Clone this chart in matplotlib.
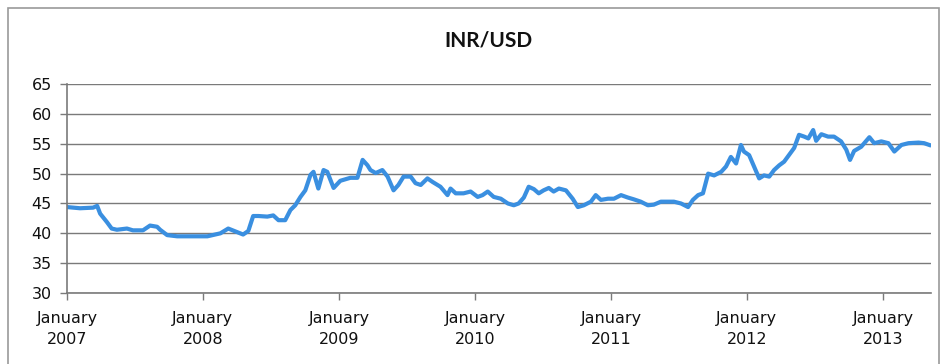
import pandas as pd
import matplotlib.pyplot as plt
import matplotlib.dates as mdates
from matplotlib.patches import Rectangle

# -----------------------------
# Data
# -----------------------------
dates = [
    "2007-01-01", "2007-02-05", "2007-03-12", "2007-03-23", "2007-03-31", "2007-04-18",
    "2007-05-01", "2007-05-15", "2007-06-11", "2007-06-27", "2007-07-24", "2007-08-12",
    "2007-08-31", "2007-09-08", "2007-09-27", "2007-10-24", "2007-12-06", "2008-01-13",
    "2008-02-17", "2008-03-09", "2008-04-02", "2008-04-18", "2008-05-02", "2008-05-15",
    "2008-05-29", "2008-06-22", "2008-07-08", "2008-07-22", "2008-08-09", "2008-08-23",
    "2008-09-05", "2008-09-19", "2008-10-02", "2008-10-16", "2008-10-24", "2008-11-06",
    "2008-11-20", "2008-11-30", "2008-12-17", "2009-01-04", "2009-01-31", "2009-02-19",
    "2009-03-05", "2009-03-18", "2009-03-26", "2009-04-09", "2009-04-27", "2009-05-11",
    "2009-05-27", "2009-06-09", "2009-06-23", "2009-07-12", "2009-07-25", "2009-08-08",
    "2009-08-26", "2009-09-09", "2009-09-30", "2009-10-19", "2009-10-27", "2009-11-10",
    "2009-12-01", "2009-12-20", "2010-01-08", "2010-01-21", "2010-02-04", "2010-02-20",
    "2010-03-11", "2010-03-30", "2010-04-15", "2010-04-28", "2010-05-12", "2010-05-25",
    "2010-06-08", "2010-06-21", "2010-07-04", "2010-07-18", "2010-07-31", "2010-08-14",
    "2010-09-02", "2010-09-20", "2010-10-04", "2010-10-20", "2010-11-08", "2010-11-21",
    "2010-12-05", "2010-12-24", "2011-01-09", "2011-01-28", "2011-02-15", "2011-03-03",
    "2011-03-22", "2011-04-10", "2011-04-26", "2011-05-15", "2011-06-03", "2011-06-19",
    "2011-07-08", "2011-07-27", "2011-08-09", "2011-08-23", "2011-09-05", "2011-09-19",
    "2011-10-05", "2011-10-24", "2011-11-06", "2011-11-19", "2011-12-03", "2011-12-16",
    "2011-12-24", "2012-01-07", "2012-01-20", "2012-02-03", "2012-02-16", "2012-03-01",
    "2012-03-14", "2012-03-28", "2012-04-10", "2012-04-23", "2012-05-07", "2012-05-20",
    "2012-06-03", "2012-06-14", "2012-06-27", "2012-07-05", "2012-07-19", "2012-08-06",
    "2012-08-22", "2012-09-10", "2012-09-24", "2012-10-04", "2012-10-15", "2012-11-03",
    "2012-11-25", "2012-12-08", "2012-12-27", "2013-01-15", "2013-01-31", "2013-02-19",
    "2013-03-10", "2013-04-06", "2013-04-21", "2013-05-05",
]
inr_usd = [
    44.4, 44.2, 44.3, 44.6, 43.3, 41.9,
    40.8, 40.6, 40.8, 40.5, 40.5, 41.3,
    41.1, 40.6, 39.7, 39.5, 39.5, 39.5,
    40.0, 40.8, 40.2, 39.8, 40.4, 42.9,
    42.9, 42.8, 43.0, 42.2, 42.2, 43.9,
    44.7, 46.1, 47.2, 49.8, 50.3, 47.5,
    50.6, 50.3, 47.6, 48.8, 49.3, 49.3,
    52.3, 51.4, 50.6, 50.1, 50.6, 49.5,
    47.2, 48.1, 49.5, 49.5, 48.4, 48.1,
    49.2, 48.6, 47.8, 46.4, 47.5, 46.7,
    46.7, 47.0, 46.1, 46.4, 47.0, 46.1,
    45.8, 45.0, 44.7, 45.0, 46.0, 47.8,
    47.4, 46.7, 47.2, 47.6, 47.0, 47.5,
    47.2, 45.8, 44.4, 44.7, 45.3, 46.4,
    45.6, 45.8, 45.8, 46.4, 46.0, 45.7,
    45.3, 44.7, 44.8, 45.3, 45.3, 45.3,
    45.0, 44.4, 45.6, 46.4, 46.7, 50.0,
    49.7, 50.3, 51.2, 52.8, 51.7, 54.8,
    53.7, 53.1, 51.2, 49.2, 49.7, 49.5,
    50.6, 51.4, 52.0, 53.1, 54.3, 56.5,
    56.2, 55.9, 57.3, 55.5, 56.6, 56.2,
    56.2, 55.4, 54.0, 52.3, 53.8, 54.5,
    56.1, 55.1, 55.4, 55.1, 53.7, 54.8,
    55.1, 55.2, 55.1, 54.8,
]
years = ["2007", "2008", "2009", "2010", "2011", "2012", "2013"]
y_ticks = [30, 35, 40, 45, 50, 55, 60, 65]

df = pd.DataFrame({"date": pd.to_datetime(dates), "rate": inr_usd})
tick_dates = pd.to_datetime([y + "-01-01" for y in years])

# -----------------------------
# Plot
# -----------------------------
plt.rcParams["font.family"] = ["DejaVu Sans"]

fig = plt.figure(figsize=(9.45, 3.64), dpi=100)
ax = fig.add_axes([0.0709, 0.195, 0.9141, 0.574])

ax.plot(df["date"], df["rate"], color="#3a8fe0", linewidth=3.0, solid_joinstyle="round")

ax.set_ylim(30, 65)
ax.set_yticks(y_ticks)
ax.set_xlim(pd.Timestamp("2007-01-01"), pd.Timestamp("2013-05-09"))
ax.set_xticks(tick_dates)
ax.xaxis.set_major_formatter(mdates.DateFormatter("January\n%Y"))
for lbl in ax.get_xticklabels():
    lbl.set_linespacing(1.5)

ax.grid(True, axis="y", color="#7a7a7a", linewidth=1.0)
ax.set_axisbelow(True)
for side in ["top", "right"]:
    ax.spines[side].set_visible(False)
for side in ["left", "bottom"]:
    ax.spines[side].set_color("#7a7a7a")
    ax.spines[side].set_linewidth(1.2)

ax.tick_params(axis="y", labelsize=11.5, colors="#7a7a7a", labelcolor="#111111",
               length=5, width=1, pad=6)
ax.tick_params(axis="x", labelsize=11.5, colors="#7a7a7a", labelcolor="#111111",
               length=5, width=1, pad=8)

fig.text(0.517, 0.89, "INR/USD", ha="center", va="center", family="Lato",
         fontsize=15, fontweight="bold", color="#111111")

# outer chart border
fig.patches.append(Rectangle((0.008, -0.05), 0.986, 1.027, transform=fig.transFigure,
                             fill=False, edgecolor="#9a9a9a", linewidth=1.2))

fig.savefig("out.png", dpi=100)
